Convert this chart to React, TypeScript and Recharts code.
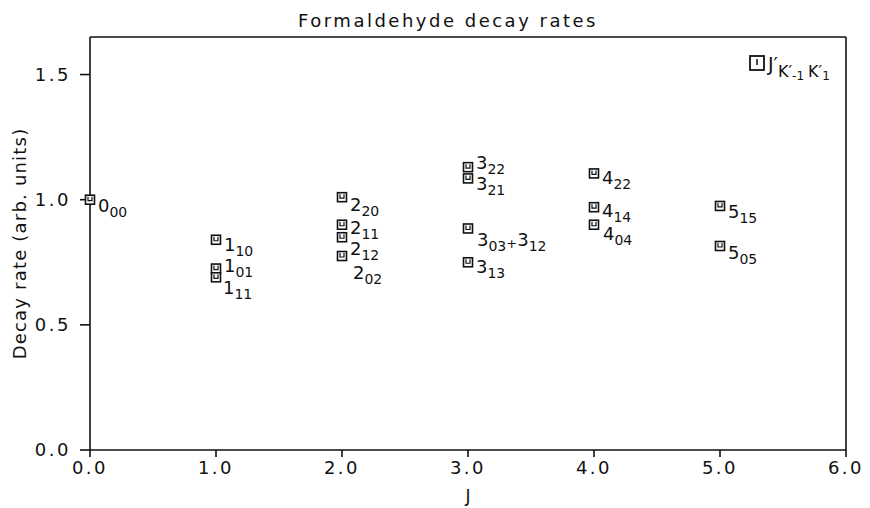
import React from 'react';
import { ScatterChart, Scatter, XAxis, YAxis, ReferenceLine, Customized } from 'recharts';

// rotational quantum number J of each level
const jValues = [0, 1, 1, 1, 2, 2, 2, 2, 3, 3, 3, 3, 4, 4, 4, 5, 5];
// decay rate, arb. units
const decayRates = [1.0, 0.84, 0.725, 0.69, 1.01, 0.9, 0.85, 0.775, 1.13, 1.085, 0.885, 0.75, 1.105, 0.97, 0.9, 0.975, 0.815];
// level labels J_(K-1 K1)
const levelLabels = ['0_00', '1_10', '1_01', '1_11', '2_20', '2_11', '2_12', '2_02', '3_22', '3_21', '3_03+3_12', '3_13', '4_22', '4_14', '4_04', '5_15', '5_05'];

const xTicks = [0, 1, 2, 3, 4, 5, 6];
const yTicks = [0, 0.5, 1.0, 1.5];

const points = jValues.map((j, i) => ({ j, rate: decayRates[i], label: levelLabels[i] }));

// where each label sits relative to its marker (dx, dy to the baseline)
const labelOffset: Record<string, [number, number]> = {
  '0_00': [8, 12],
  '1_10': [8, 11],
  '1_01': [8, 3],
  '1_11': [7, 17],
  '2_20': [8, 14],
  '2_11': [8, 9],
  '2_12': [8, 18],
  '2_02': [11, 23],
  '3_22': [8, 2],
  '3_21': [8, 12],
  '3_03+3_12': [9, 18],
  '3_13': [8, 11],
  '4_22': [8, 11],
  '4_14': [8, 10],
  '4_04': [9, 15],
  '5_15': [8, 12],
  '5_05': [8, 13],
};

const FONT = '"DejaVu Sans", sans-serif';

const LevelText = ({ x, y, label }: { x: number; y: number; label: string }) => {
  const parts: React.ReactNode[] = [];
  label.split('+').forEach((term, k) => {
    const [main, sub] = term.split('_');
    if (k > 0) parts.push(<tspan key={'p' + k} fontSize={13} dy={-3}>+</tspan>);
    parts.push(<tspan key={'m' + k} fontSize={18} dy={k > 0 ? -2 : 0}>{main}</tspan>);
    parts.push(<tspan key={'s' + k} fontSize={14} dy={5}>{sub}</tspan>);
  });
  return (
    <text x={x} y={y} fontFamily={FONT} fill="#111">{parts}</text>
  );
};

const Marker = (props: any) => {
  const { cx, cy, payload } = props;
  const off = labelOffset[payload.label] || [8, 10];
  return (
    <g>
      <rect x={cx - 4.5} y={cy - 4.5} width={9} height={9} fill="#fff" stroke="#111" strokeWidth={1.6} />
      <path d={`M${cx - 2},${cy - 3} V${cy + 1} H${cx + 2} V${cy - 3}`} fill="none" stroke="#111" strokeWidth={1.2} />
      <LevelText x={cx + off[0]} y={cy + off[1]} label={payload.label} />
    </g>
  );
};

const Overlay = () => (
  <g fontFamily={FONT} fill="#111">
    <text x={440} y={19} textAnchor="middle" fontSize={18} letterSpacing={2.5}>Formaldehyde decay rates</text>
    <rect x={742} y={48} width={14} height={14} fill="#fff" stroke="#111" strokeWidth={1.8} />
    <path d="M749,51 V57" stroke="#111" strokeWidth={1.5} />
    <text x={760} y={63}>
      <tspan fontSize={19}>J′</tspan>
      <tspan fontSize={16} dy={6}>K′</tspan>
      <tspan fontSize={12} dy={3}>-1</tspan>
      <tspan fontSize={16} dy={-3} dx={4}>K′</tspan>
      <tspan fontSize={12} dy={3}>1</tspan>
    </text>
  </g>
);

export default function App() {
  return (
    <ScatterChart width={862} height={500} margin={{ top: 29, right: 24, bottom: 0, left: 0 }}>
      <XAxis
        type="number"
        dataKey="j"
        domain={[0, 6]}
        ticks={xTicks}
        tickFormatter={(v: number) => v.toFixed(1)}
        height={58}
        tickSize={7}
        tickMargin={4}
        stroke="#111"
        strokeWidth={1.6}
        tick={{ fill: '#111', fontSize: 18, fontFamily: FONT, letterSpacing: 2.5 }}
        label={{ value: 'J', position: 'insideBottom', offset: 6, fill: '#111', fontSize: 17, fontFamily: FONT }}
      />
      <YAxis
        type="number"
        dataKey="rate"
        domain={[0, 1.65]}
        ticks={yTicks}
        tickFormatter={(v: number) => v.toFixed(1)}
        width={82}
        tickSize={10}
        tickMargin={9}
        stroke="#111"
        strokeWidth={1.6}
        tick={{ fill: '#111', fontSize: 18, fontFamily: FONT, letterSpacing: 2.5 }}
        label={{ value: 'Decay rate (arb. units)', angle: -90, position: 'insideLeft', offset: 12, fill: '#111', fontSize: 18, fontFamily: FONT, letterSpacing: 1.2, style: { textAnchor: 'middle' } }}
      />
      <ReferenceLine y={1.65} stroke="#111" strokeWidth={1.6} />
      <ReferenceLine x={6} stroke="#111" strokeWidth={1.6} />
      <Scatter data={points} shape={Marker} isAnimationActive={false} />
      <Customized component={Overlay} />
    </ScatterChart>
  );
}
